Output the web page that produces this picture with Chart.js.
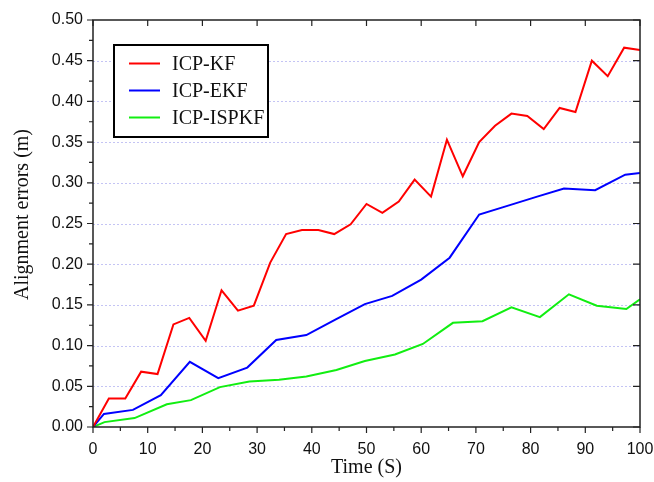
<!DOCTYPE html>
<html><head><meta charset="utf-8">
<script src="https://cdn.jsdelivr.net/npm/chart.js@4.4.0/dist/chart.umd.min.js"></script>
<style>html,body{margin:0;padding:0;background:#fff;}#wrap{width:654px;height:482px;}</style>
</head><body><div id="wrap"><canvas id="c" width="654" height="482"></canvas></div>
<script>
const seriesNames = ['ICP-KF', 'ICP-EKF', 'ICP-ISPKF'];
const seriesColors = ['#ff0000', '#0000ff', '#11ee11'];

const kfTime = [0, 2.9, 5.9, 8.8, 11.8, 14.7, 17.6, 20.6, 23.5, 26.5, 29.4, 32.4, 35.3, 38.2, 41.2, 44.1, 47.1, 50.0, 52.9, 55.9, 58.8, 61.8, 64.7, 67.6, 70.6, 73.5, 76.5, 79.4, 82.4, 85.3, 88.2, 91.2, 94.1, 97.1, 100];
const kfErr  = [0, 0.035, 0.035, 0.068, 0.065, 0.126, 0.134, 0.106, 0.168, 0.143, 0.149, 0.202, 0.237, 0.242, 0.242, 0.237, 0.249, 0.274, 0.263, 0.277, 0.304, 0.283, 0.353, 0.308, 0.350, 0.370, 0.385, 0.382, 0.366, 0.392, 0.387, 0.450, 0.431, 0.466, 0.463];

const ekfTime = [0, 2.0, 7.3, 12.4, 17.7, 22.9, 28.2, 33.5, 39.0, 44.3, 49.7, 54.7, 60.0, 65.2, 70.6, 75.9, 81.2, 86.1, 91.8, 97.3, 100];
const ekfErr  = [0, 0.016, 0.021, 0.039, 0.080, 0.060, 0.073, 0.107, 0.113, 0.132, 0.151, 0.161, 0.181, 0.208, 0.261, 0.272, 0.283, 0.293, 0.291, 0.310, 0.312];

const ispkfTime = [0, 2.1, 7.6, 13.5, 17.9, 23.2, 28.6, 34.0, 39.0, 44.5, 49.7, 55.2, 60.3, 65.8, 71.2, 76.5, 81.7, 87.0, 92.1, 97.5, 100];
const ispkfErr  = [0, 0.006, 0.011, 0.028, 0.033, 0.049, 0.056, 0.058, 0.062, 0.070, 0.081, 0.089, 0.102, 0.128, 0.130, 0.147, 0.135, 0.163, 0.149, 0.145, 0.157];

const xTitle = 'Time (S)';
const yTitle = 'Alignment errors (m)';

function pts(xs, ys) { return xs.map((x, i) => ({x: x, y: ys[i]})); }
const seriesData = [pts(kfTime, kfErr), pts(ekfTime, ekfErr), pts(ispkfTime, ispkfErr)];

const serifFont = '"Liberation Serif", "Times New Roman", serif';

const framePlugin = {
  id: 'frame',
  beforeDatasetsDraw(chart) {
    const ctx = chart.ctx, a = chart.chartArea, ys = chart.scales.y;
    ctx.save();
    ctx.strokeStyle = '#c4c4f4';
    ctx.lineWidth = 1;
    ctx.setLineDash([2, 2]);
    ys.ticks.forEach(t => {
      if (t.value <= 0.0001 || t.value >= 0.4999) return;
      const p = Math.round(ys.getPixelForValue(t.value)) + 0.5;
      ctx.beginPath(); ctx.moveTo(a.left, p); ctx.lineTo(a.right, p); ctx.stroke();
    });
    ctx.restore();
  },
  afterDatasetsDraw(chart) {
    const ctx = chart.ctx, a = chart.chartArea, xs = chart.scales.x, ys = chart.scales.y;
    ctx.save();
    ctx.strokeStyle = '#222';
    ctx.lineWidth = 1.5;
    ctx.setLineDash([]);
    ctx.strokeRect(a.left, a.top, a.right - a.left, a.bottom - a.top);
    ctx.lineWidth = 1.2;
    ctx.beginPath();
    xs.ticks.forEach((t, i) => {
      const p = xs.getPixelForValue(t.value);
      ctx.moveTo(p, a.bottom); ctx.lineTo(p, a.bottom + 6);
      ctx.moveTo(p, a.top); ctx.lineTo(p, a.top + 6);
      if (i < xs.ticks.length - 1) {
        const m = xs.getPixelForValue((t.value + xs.ticks[i + 1].value) / 2);
        ctx.moveTo(m, a.bottom); ctx.lineTo(m, a.bottom + 4);
      }
    });
    ys.ticks.forEach((t, i) => {
      const p = ys.getPixelForValue(t.value);
      ctx.moveTo(a.left, p); ctx.lineTo(a.left - 6, p);
      ctx.moveTo(a.right, p); ctx.lineTo(a.right - 7, p);
      if (i < ys.ticks.length - 1) {
        const m = ys.getPixelForValue((t.value + ys.ticks[i + 1].value) / 2);
        ctx.moveTo(a.left, m); ctx.lineTo(a.left - 4, m);
      }
    });
    ctx.stroke();

    // y axis title
    ctx.save();
    ctx.translate(23, 214.5);
    ctx.rotate(-Math.PI / 2);
    ctx.font = '20px ' + serifFont;
    ctx.fillStyle = '#111';
    ctx.textAlign = 'center';
    ctx.textBaseline = 'middle';
    ctx.fillText(yTitle, 0, 0);
    ctx.restore();

    // legend
    const bx = 114, by = 45, bw = 154, bh = 92;
    ctx.fillStyle = '#fff';
    ctx.fillRect(bx, by, bw, bh);
    ctx.lineWidth = 2;
    ctx.strokeStyle = '#000';
    ctx.strokeRect(bx, by, bw, bh);
    ctx.font = '20px ' + serifFont;
    ctx.textBaseline = 'middle';
    ctx.textAlign = 'left';
    chart.data.datasets.forEach((d, i) => {
      const yy = by + 18.5 + i * 27;
      ctx.strokeStyle = d.borderColor;
      ctx.lineWidth = 2;
      ctx.beginPath(); ctx.moveTo(129, yy); ctx.lineTo(160, yy); ctx.stroke();
      ctx.fillStyle = '#111';
      ctx.fillText(d.label, 172, yy + 1);
    });
    ctx.restore();
  }
};

const tickFont = {family: '"Liberation Sans", Arial, sans-serif', size: 16};
const titleFont = {family: serifFont, size: 20};

new Chart(document.getElementById('c'), {
  type: 'line',
  data: {
    datasets: seriesData.map((d, i) => ({
      label: seriesNames[i],
      data: d,
      borderColor: seriesColors[i],
      backgroundColor: seriesColors[i],
      borderWidth: 2,
      pointRadius: 0,
      tension: 0,
      fill: false
    }))
  },
  options: {
    responsive: false,
    animation: false,
    layout: {padding: {left: 0, right: 14, top: 20, bottom: 0}},
    plugins: {legend: {display: false}, tooltip: {enabled: false}},
    scales: {
      x: {
        type: 'linear', min: 0, max: 100,
        grid: {display: false, drawTicks: false},
        border: {display: false},
        ticks: {stepSize: 10, font: tickFont, color: '#111', padding: 13, maxRotation: 0,
                callback: v => String(v)},
        title: {display: true, text: xTitle, font: titleFont, color: '#111', padding: {top: 0, bottom: 2}},
        afterFit(s) { s.height = 55; s.paddingLeft = 0; s.paddingRight = 0; }
      },
      y: {
        type: 'linear', min: 0, max: 0.5,
        grid: {display: false, drawTicks: false},
        border: {display: false},
        ticks: {stepSize: 0.05, font: tickFont, color: '#111', padding: 10,
                callback: v => Number(v).toFixed(2)},
        afterFit(s) { s.width = 93; s.paddingTop = 0; s.paddingBottom = 0; }
      }
    }
  },
  plugins: [framePlugin]
});
</script></body></html>
